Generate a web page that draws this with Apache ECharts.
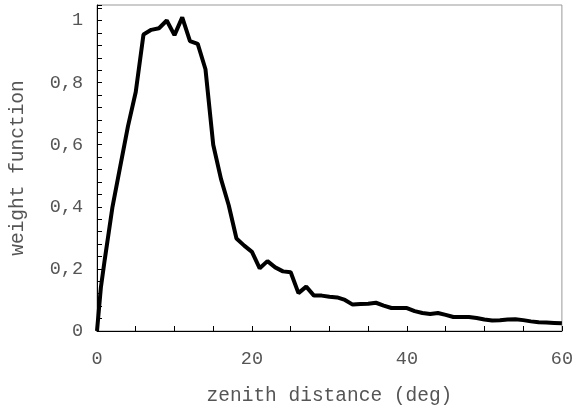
<!DOCTYPE html>
<html>
<head>
<meta charset="utf-8">
<script src="https://cdn.jsdelivr.net/npm/echarts@6/dist/echarts.min.js"></script>
<style>
  html, body { margin: 0; padding: 0; background: #fff; }
  #chart { width: 576px; height: 411px; }
</style>
</head>
<body>
<div id="chart"></div>
<script>
// zenith distance (deg) and weight
const zenithDeg = [0, 0.5, 1, 2, 3, 4, 5, 6, 7, 8, 9, 10, 11, 12, 13, 14, 15, 16, 17, 18, 19, 20,
  21, 22, 23, 24, 25, 26, 27, 28, 29, 30, 31, 32, 33, 34, 35, 36, 37, 38, 39, 40,
  41, 42, 43, 44, 45, 46, 47, 48, 49, 50, 51, 52, 53, 54, 55, 56, 57, 58, 59, 60];
const weight = [0.0, 0.14, 0.23, 0.40, 0.53, 0.66, 0.77, 0.955, 0.97, 0.975, 1.0, 0.953, 1.01, 0.934, 0.925, 0.843,
  0.60, 0.49, 0.405, 0.298, 0.275, 0.255, 0.202, 0.225, 0.205, 0.192, 0.189, 0.122, 0.143, 0.114, 0.114,
  0.11, 0.108, 0.1, 0.085, 0.087, 0.088, 0.091, 0.082, 0.074, 0.074, 0.074, 0.064, 0.058, 0.055, 0.058,
  0.052, 0.045, 0.045, 0.045, 0.042, 0.037, 0.034, 0.035, 0.037, 0.038, 0.035, 0.031, 0.028, 0.027, 0.026, 0.025];

const font = '"Liberation Mono", "DejaVu Sans Mono", monospace';
const textColor = '#555';

const chart = echarts.init(document.getElementById('chart'));

chart.setOption({
  animation: false,
  grid: {
    left: 97,
    right: 13,
    top: 5,
    bottom: 78,
    show: true,
    borderColor: '#999',
    borderWidth: 1,
  },
  xAxis: {
    type: 'value',
    min: 0,
    max: 60,
    interval: 20,
    name: 'zenith distance (deg)',
    nameLocation: 'middle',
    nameGap: 55,
    nameTextStyle: { fontFamily: font, fontSize: 19.5, color: textColor },
    axisLine: { lineStyle: { color: '#000', width: 1 } },
    axisTick: { inside: true, length: 5, lineStyle: { color: '#000' } },
    minorTick: { show: true, splitNumber: 4, length: 5, lineStyle: { color: '#000' } },
    splitLine: { show: false },
    axisLabel: { margin: 19, fontFamily: font, fontSize: 18.5, color: textColor },
  },
  yAxis: {
    type: 'value',
    min: 0,
    max: 1.05,
    interval: 0.2,
    name: 'weight function',
    nameLocation: 'middle',
    nameGap: 69,
    nameRotate: 90,
    nameTextStyle: { fontFamily: font, fontSize: 19.5, color: textColor },
    axisLine: { show: true, lineStyle: { color: '#000', width: 1 } },
    axisTick: { show: true, inside: true, length: 5, lineStyle: { color: '#000' } },
    minorTick: { show: true, splitNumber: 5, length: 5, lineStyle: { color: '#000' } },
    splitLine: { show: false },
    axisLabel: {
      margin: 14,
      showMaxLabel: false,
      fontFamily: font,
      fontSize: 18.5,
      color: textColor,
      formatter: (v) => String(Math.round(v * 10) / 10).replace('.', ','),
    },
  },
  series: [
    {
      type: 'line',
      data: zenithDeg.map((d, i) => [d, weight[i]]),
      showSymbol: false,
      lineStyle: { color: '#000', width: 4 },
    },
  ],
});
</script>
</body>
</html>
